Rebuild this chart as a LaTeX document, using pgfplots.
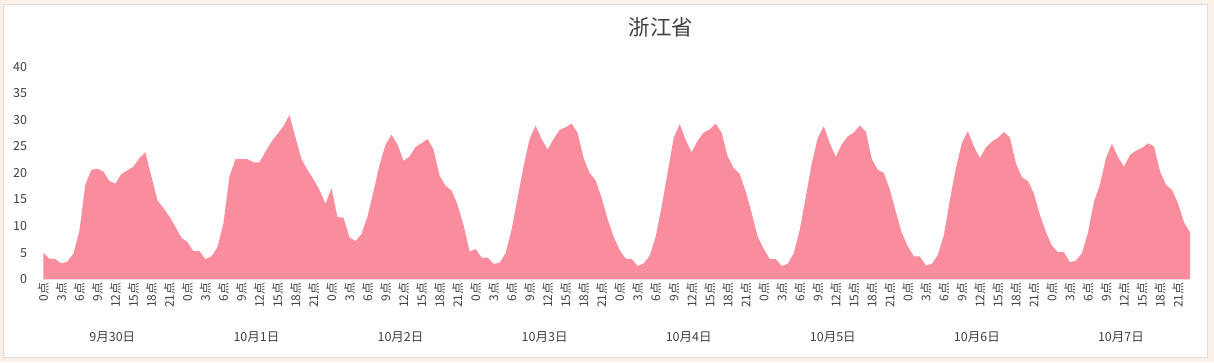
\documentclass[border=0pt]{standalone}
\usepackage{pgfplots}
\pgfplotsset{compat=1.18}
\usepackage{fontspec}
\setmainfont{Noto Sans CJK SC}
\definecolor{areapink}{RGB}{250,141,157}
\definecolor{txt}{RGB}{64,64,64}
\definecolor{bgcream}{RGB}{252,241,233}
\definecolor{cardline}{RGB}{220,220,220}
\begin{document}
\begin{tikzpicture}
\fill[bgcream] (0pt,0pt) rectangle (1214pt,362pt);
\filldraw[fill=white, draw=cardline] (3pt,5pt) rectangle (1207pt,358pt);
\node[txt, font=\fontsize{21.5}{24}\selectfont] at (661pt,335pt) {浙江省};
\begin{axis}[
  at={(43.3pt,82.7pt)}, anchor=south west,
  scale only axis, width=1146.7pt, height=212.6pt,
  xmin=0, xmax=191, ymin=0, ymax=40,
  axis line style={draw=none},
  major tick length=0pt,
  ytick={0,5,...,40},
  xtick={0,3,...,189},
  xticklabel={\pgfmathtruncatemacro\hh{mod(\tick+0.1,24)}\hh 点},
  /pgf/number format/assume math mode=true,
  yticklabel style={font=\fontsize{12.5}{14}\selectfont, text=txt, anchor=east, inner sep=0pt, xshift=-16pt},
  xticklabel style={font=\fontsize{12}{14}\selectfont, text=txt, rotate=90, anchor=east, inner sep=3pt},
  clip=false,
]
\addplot[fill=areapink, draw=none] table[x expr=\coordindex, y=v] {
v
5.0
3.9
3.8
3.0
3.3
4.8
9.0
17.8
20.6
20.8
20.3
18.5
18.0
19.8
20.5
21.2
22.8
23.9
19.3
14.9
13.4
11.8
9.9
7.8
7.0
5.3
5.3
3.8
4.3
6.0
10.5
19.3
22.6
22.6
22.6
22.0
22.0
24.0
25.9
27.3
28.8
30.9
26.7
22.6
20.6
18.8
16.8
14.2
17.1
11.7
11.6
7.9
7.2
8.5
11.8
16.5
21.5
25.3
27.2
25.3
22.3
23.1
24.9
25.6
26.4
24.4
19.5
17.6
16.7
14.0
10.2
5.2
5.7
4.1
4.1
2.9
3.1
4.9
9.3
15.3
21.2
26.4
28.9
26.4
24.4
26.4
28.1
28.6
29.3
27.5
22.8
20.0
18.6
15.3
11.3
8.0
5.5
3.9
3.8
2.5
3.0
4.4
8.0
13.7
20.1
26.6
29.2
26.2
23.9
26.1
27.6
28.2
29.3
27.5
23.1
20.9
19.8
16.5
12.4
8.0
5.7
3.8
3.8
2.5
2.9
4.9
9.3
15.5
21.8
26.6
28.8
25.6
23.0
25.4
26.9
27.6
28.9
27.8
22.6
20.6
20.0
16.9
12.7
8.7
6.2
4.3
4.3
2.6
2.9
4.6
8.3
14.9
20.9
25.6
27.9
25.0
22.8
24.8
25.9
26.6
27.7
26.7
21.8
19.2
18.5
16.1
12.1
8.9
6.3
5.1
5.1
3.2
3.5
4.9
8.7
14.6
17.8
22.8
25.5
23.0
21.2
23.4
24.2
24.7
25.6
25.0
20.3
17.8
16.8
14.3
10.7
8.8
} \closedcycle;
\foreach \d/\lab in {0/9月30日, 1/10月1日, 2/10月2日, 3/10月3日, 4/10月4日, 5/10月5日, 6/10月6日, 7/10月7日}{
  \edef\tmp{\noexpand\node[txt, font=\noexpand\fontsize{12.5}{14}\noexpand\selectfont] at (axis cs:{11.5+24*\d},0) [yshift=-58pt] {\lab};}
  \tmp
}
\end{axis}
\end{tikzpicture}
\end{document}
